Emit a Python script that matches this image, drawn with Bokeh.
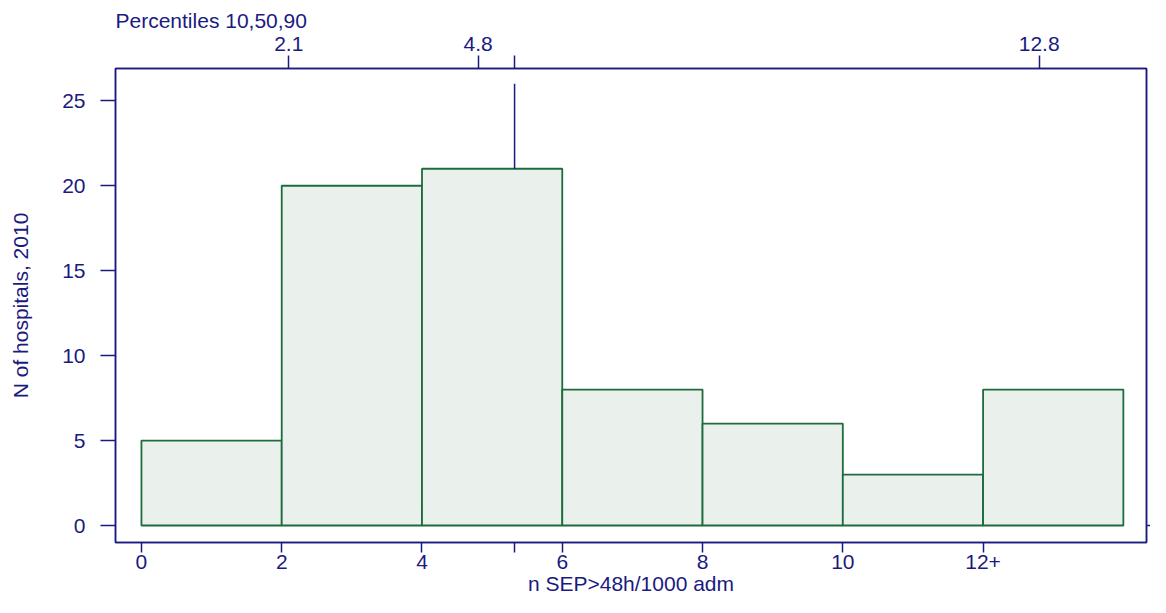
from bokeh.plotting import figure
from bokeh.models import Range1d, LinearAxis, FixedTicker
from bokeh.embed import file_html
from bokeh.resources import INLINE

# ---- data ----
bin_edges = [0, 2, 4, 6, 8, 10, 12, 14]
counts = [5, 20, 21, 8, 6, 3, 8]
x_ticks = [0, 2, 4, 6, 8, 10, 12]
x_tick_labels = ["0", "2", "4", "6", "8", "10", "12+"]
y_ticks = [0, 5, 10, 15, 20, 25]
y_tick_labels = ["0", "5", "10", "15", "20", "25"]
pct_values = [2.1, 4.8, 12.8]
pct_labels = ["2.1", "4.8", "12.8"]
mean_value = 5.32
mean_line_top = 26

NAVY = "#1a1a80"
GREEN = "#1e6b3d"
FILL = "#eaf1ec"
FONT = "Liberation Sans"

x_start, x_end = -0.37, 14.33
p = figure(width=1150, height=597, output_backend="svg", toolbar_location=None,
           x_range=Range1d(x_start, x_end), y_range=Range1d(-1.0, 26.9),
           min_border_left=115, min_border_right=4, min_border_top=68, min_border_bottom=48)
p.xgrid.visible = False
p.ygrid.visible = False
p.outline_line_color = NAVY
p.outline_line_width = 1.5
p.background_fill_color = "white"
p.border_fill_color = "white"

p.title.text = "Percentiles 10,50,90"
p.title.align = "left"
p.title.text_font = FONT
p.title.text_font_size = "21px"
p.title.text_font_style = "normal"
p.title.text_color = NAVY
p.title.standoff = 4
p.title.offset = 0


def style_axis(ax, tick_out, standoff, size="21px"):
    ax.axis_line_color = NAVY
    ax.axis_line_width = 1.5
    ax.major_tick_line_color = NAVY
    ax.major_tick_line_width = 1.5
    ax.major_tick_in = 0
    ax.major_tick_out = tick_out
    ax.minor_tick_line_color = None
    ax.major_label_text_font = FONT
    ax.major_label_text_font_size = size
    ax.major_label_text_color = NAVY
    ax.major_label_standoff = standoff


def style_title(ax, text, standoff):
    ax.axis_label = text
    ax.axis_label_text_font = FONT
    ax.axis_label_text_font_size = "21px"
    ax.axis_label_text_font_style = "normal"
    ax.axis_label_text_color = NAVY
    ax.axis_label_standoff = standoff


# bottom axis
xa = p.xaxis[0]
xa.ticker = FixedTicker(ticks=x_ticks + [mean_value])
ov = {t: l for t, l in zip(x_ticks, x_tick_labels)}
ov[mean_value] = ""
xa.major_label_overrides = ov
style_axis(xa, 10, 2)
style_title(xa, "n SEP>48h/1000 adm", 0)

# left axis
ya = p.yaxis[0]
ya.ticker = FixedTicker(ticks=y_ticks)
ya.major_label_overrides = {t: l for t, l in zip(y_ticks, y_tick_labels)}
style_axis(ya, 15, 15)
ya.major_label_orientation = "horizontal"
style_title(ya, "N of hospitals, 2010", 27)

# top axis (percentiles)
tov = {t: l for t, l in zip(pct_values, pct_labels)}
tov[mean_value] = ""
ta = LinearAxis(ticker=FixedTicker(ticks=pct_values + [mean_value]), major_label_overrides=tov)
style_axis(ta, 13, 5)
p.add_layout(ta, "above")

# right axis: single tick at 0
ra = LinearAxis(ticker=FixedTicker(ticks=[0]), major_label_overrides={0: ""})
style_axis(ra, 4, 0, size="1px")
p.add_layout(ra, "right")

# bars
p.quad(left=bin_edges[:-1], right=bin_edges[1:], bottom=0, top=counts,
       fill_color=FILL, line_color=GREEN, line_width=1.8)

# mean marker line
mean_bin = max(i for i, e in enumerate(bin_edges[:-1]) if e <= mean_value)
p.segment(x0=[mean_value], y0=[mean_line_top], x1=[mean_value], y1=[counts[mean_bin]],
          line_color=NAVY, line_width=1.5)

open("out.html", "w").write(file_html(p, INLINE))
